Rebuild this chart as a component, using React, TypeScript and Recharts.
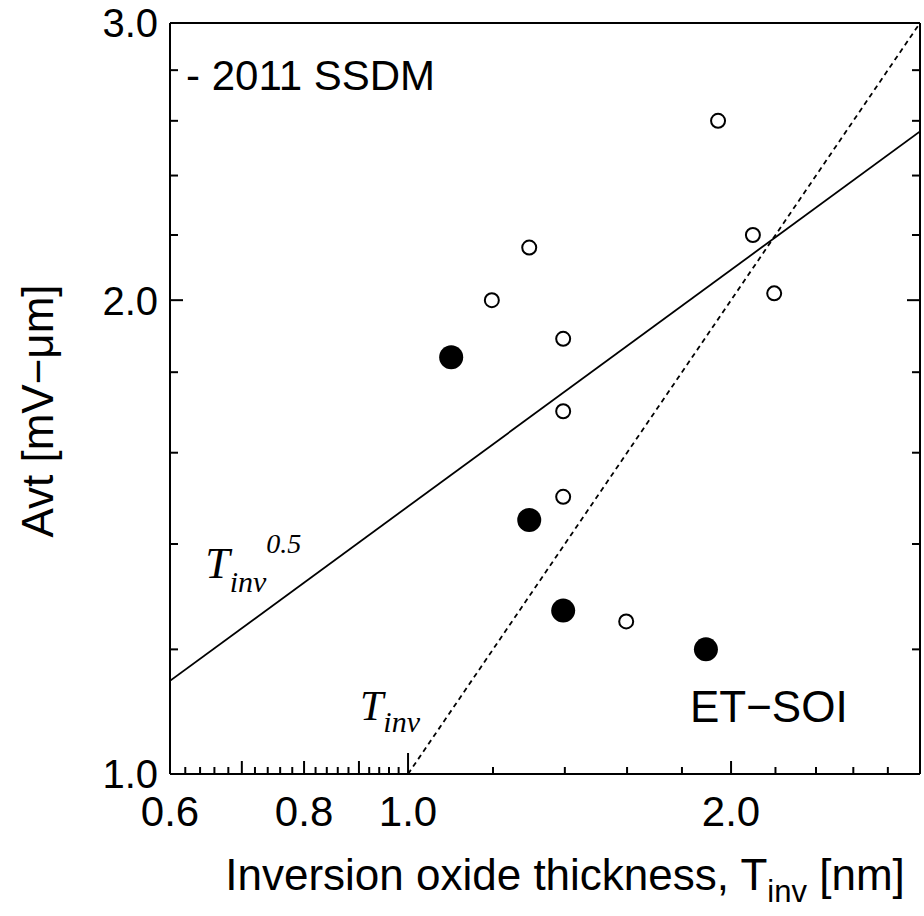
import { ComposedChart, XAxis, YAxis, Scatter, Line, ReferenceDot, Label } from "recharts";

// thickness T_inv [nm] vs Avt [mV-um]
const bulkTinv = [1.197, 1.297, 1.395, 1.395, 1.395, 1.597, 1.945, 2.096, 2.194];
const bulkAvt = [2.0, 2.16, 1.89, 1.7, 1.5, 1.25, 2.6, 2.2, 2.02];
const etsoiTinv = [1.097, 1.297, 1.395, 1.895];
const etsoiAvt = [1.84, 1.45, 1.27, 1.2];

// guide lines: Avt ~ Tinv^0.5 (solid) and Avt ~ Tinv (dotted)
const sqrtTinv = [0.6, 3.0];
const sqrtAvt = [1.146, 2.56];
const linTinv = [1.0, 3.0];
const linAvt = [1.0, 3.0];

const xTicks = [
  0.6, 0.62, 0.64, 0.66, 0.68, 0.7, 0.72, 0.74, 0.76, 0.78, 0.8, 0.82, 0.84, 0.86, 0.88,
  0.9, 0.92, 0.94, 0.96, 0.98, 1.0, 1.2, 1.4, 1.6, 1.8, 2.0, 2.2, 2.4, 2.6, 2.8,
];
const xTickLabels = [0.6, 0.8, 1.0, 2.0];
const xMidTicks = [0.7, 0.8, 0.9, 2.0];
const xLongTicks = [1.0];
const yTicks = [1.0, 1.2, 1.4, 1.6, 1.8, 2.0, 2.2, 2.4, 2.6, 2.8, 3.0];
const yTickLabels = [1.0, 2.0, 3.0];
const yMidTicks = [2.0];

const toPoints = (xs: number[], ys: number[]) => xs.map((t, i) => ({ t, a: ys[i] }));

const SANS = "'Liberation Sans', Arial, Helvetica, sans-serif";
const SERIF = "'Liberation Serif', 'Times New Roman', serif";

const near = (v: number, list: number[]) => list.some((u) => Math.abs(u - v) < 1e-6);

const xLen = (v: number) => (near(v, xLongTicks) ? 21 : near(v, xMidTicks) ? 13 : 7);
const yLen = (v: number) => (near(v, yMidTicks) ? 13 : 8);

function BottomTick({ x, y, payload }: any) {
  const v = payload.value;
  return (
    <g>
      <line x1={x} y1={y} x2={x} y2={y - xLen(v)} stroke="#000" strokeWidth={2} />
      {near(v, xTickLabels) && (
        <text x={x} y={y + 52} textAnchor="middle" fontSize={42} fontFamily={SANS} fill="#000">
          {v.toFixed(1)}
        </text>
      )}
    </g>
  );
}

function TopTick({ x, y, payload }: any) {
  return <line x1={x} y1={y} x2={x} y2={y + xLen(payload.value)} stroke="#000" strokeWidth={2} />;
}

function LeftTick({ x, y, payload }: any) {
  const v = payload.value;
  return (
    <g>
      <line x1={x} y1={y} x2={x + yLen(v)} y2={y} stroke="#000" strokeWidth={2} />
      {near(v, yTickLabels) && (
        <text x={x - 12} y={y} dy="0.36em" textAnchor="end" fontSize={40} fontFamily={SANS} fill="#000">
          {v.toFixed(1)}
        </text>
      )}
    </g>
  );
}

function RightTick({ x, y, payload }: any) {
  return <line x1={x} y1={y} x2={x - yLen(payload.value)} y2={y} stroke="#000" strokeWidth={2} />;
}

const openDot = (p: any) => (
  <circle cx={p.cx} cy={p.cy} r={7} fill="#fff" stroke="#000" strokeWidth={2} />
);
const fullDot = (p: any) => <circle cx={p.cx} cy={p.cy} r={12} fill="#000" />;

const XTitle = () => (
  <text x={565} y={890} textAnchor="middle" fontSize={44} fontFamily={SANS} fill="#000">
    Inversion oxide thickness, T
    <tspan fontSize={31} dy={12}>inv</tspan>
    <tspan dy={-12}> [nm]</tspan>
  </text>
);

const YTitle = () => (
  <text
    x={53}
    y={411}
    transform="rotate(-90 53 411)"
    textAnchor="middle"
    fontSize={44}
    fontFamily={SANS}
    fill="#000"
  >
    Avt [mV−μm]
  </text>
);

const ssdmNote = ({ viewBox }: any) => (
  <text x={viewBox.x} y={viewBox.y} fontSize={42} fontFamily={SANS} fill="#000">
    - 2011 SSDM
  </text>
);

const sqrtNote = ({ viewBox }: any) => (
  <text x={viewBox.x} y={viewBox.y} fontSize={44} fontFamily={SERIF} fontStyle="italic" fill="#000">
    T<tspan fontSize={30} dy={14}>inv</tspan>
    <tspan fontSize={28} dy={-39}>0.5</tspan>
  </text>
);

const linNote = ({ viewBox }: any) => (
  <text x={viewBox.x} y={viewBox.y} fontSize={42} fontFamily={SERIF} fontStyle="italic" fill="#000">
    T<tspan fontSize={30} dy={12}>inv</tspan>
  </text>
);

const etsoiNote = ({ viewBox }: any) => (
  <text x={viewBox.x} y={viewBox.y} fontSize={44} fontFamily={SANS} fill="#000">
    ET−SOI
  </text>
);

export default function App() {
  const axisLine = { stroke: "#000", strokeWidth: 2 };
  return (
    <div style={{ position: "absolute", left: 0, top: 0, background: "#fff" }}>
      <ComposedChart
        width={924}
        height={916}
        margin={{ top: 22, right: 3, bottom: 0, left: 0 }}
        style={{ fontFamily: SANS }}
      >
        <XAxis
          dataKey="t"
          type="number"
          scale="log"
          domain={[0.6, 3]}
          allowDataOverflow
          ticks={xTicks}
          interval={0}
          tickSize={0}
          tickMargin={0}
          height={142}
          axisLine={axisLine}
          tickLine={false}
          tick={<BottomTick />}
        >
          <Label content={XTitle} />
        </XAxis>
        <XAxis
          xAxisId="top"
          orientation="top"
          type="number"
          scale="log"
          domain={[0.6, 3]}
          allowDataOverflow
          ticks={xTicks}
          interval={0}
          tickSize={0}
          tickMargin={0}
          height={1}
          axisLine={axisLine}
          tickLine={false}
          tick={<TopTick />}
        />
        <YAxis
          dataKey="a"
          type="number"
          scale="log"
          domain={[1, 3]}
          allowDataOverflow
          ticks={yTicks}
          interval={0}
          tickSize={0}
          tickMargin={0}
          width={170}
          axisLine={axisLine}
          tickLine={false}
          tick={<LeftTick />}
        >
          <Label content={YTitle} />
        </YAxis>
        <YAxis
          yAxisId="right"
          orientation="right"
          type="number"
          scale="log"
          domain={[1, 3]}
          allowDataOverflow
          ticks={yTicks}
          interval={0}
          tickSize={0}
          tickMargin={0}
          width={1}
          axisLine={axisLine}
          tickLine={false}
          tick={<RightTick />}
        />

        <Line
          data={toPoints(sqrtTinv, sqrtAvt)}
          dataKey="a"
          type="linear"
          stroke="#000"
          strokeWidth={1.8}
          dot={false}
          activeDot={false}
          isAnimationActive={false}
        />
        <Line
          data={toPoints(linTinv, linAvt)}
          dataKey="a"
          type="linear"
          stroke="#000"
          strokeWidth={1.8}
          strokeDasharray="5 4"
          dot={false}
          activeDot={false}
          isAnimationActive={false}
        />

        <Scatter data={toPoints(bulkTinv, bulkAvt)} dataKey="a" shape={openDot} isAnimationActive={false} />
        <Scatter data={toPoints(etsoiTinv, etsoiAvt)} dataKey="a" shape={fullDot} isAnimationActive={false} />

        <ReferenceDot x={0.621} y={2.72} r={0} stroke="none" label={ssdmNote} />
        <ReferenceDot x={0.647} y={1.332} r={0} stroke="none" label={sqrtNote} />
        <ReferenceDot x={0.902} y={1.082} r={0} stroke="none" label={linNote} />
        <ReferenceDot x={1.831} y={1.079} r={0} stroke="none" label={etsoiNote} />
      </ComposedChart>
    </div>
  );
}
